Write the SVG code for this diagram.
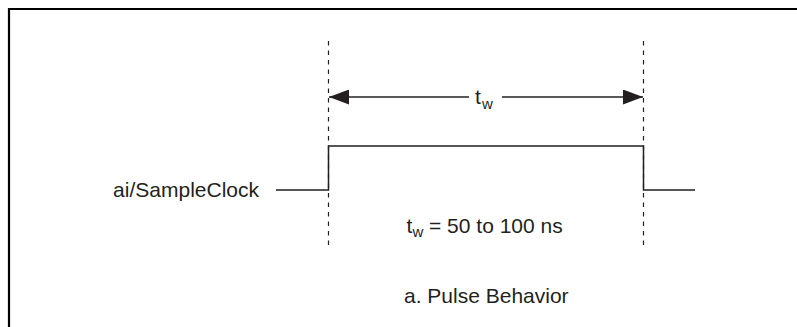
<svg xmlns="http://www.w3.org/2000/svg" width="797" height="327" viewBox="0 0 797 327">
<style>
.t{font-family:"Liberation Sans",Arial,sans-serif;font-size:21px;fill:#231f20}
.s{font-size:15px}
.dash{stroke:#231f20;stroke-width:1.2;stroke-dasharray:4.5,5;fill:none}
.sig{stroke:#231f20;stroke-width:1.5;fill:none}
.dim{stroke:#231f20;stroke-width:1.5;fill:none}
</style>
<defs>
<marker id="ah" markerWidth="20" markerHeight="15" refX="20" refY="7.5" orient="auto-start-reverse" markerUnits="userSpaceOnUse">
<path d="M0,0 L20,7.5 L0,15 Z" fill="#231f20"/>
</marker>
</defs>
<rect width="797" height="327" fill="#fff"/>
<g id="frame"><path d="M9,327 V9 H797" fill="none" stroke="#000" stroke-width="2.2"/></g>
<g id="connectors">
<line class="dash" x1="328.5" y1="41" x2="328.5" y2="250"/>
<line class="dash" x1="643.5" y1="41" x2="643.5" y2="250"/>
<line class="dim" x1="329" y1="97" x2="469" y2="97" marker-start="url(#ah)"/>
<line class="dim" x1="502" y1="97" x2="643" y2="97" marker-end="url(#ah)"/>
<polyline class="sig" points="276,190 328.5,190 328.5,146 643.5,146 643.5,190 695,190"/>
</g>
<g id="label-signal"><text class="t" x="259" y="196.5" text-anchor="end">ai/SampleClock</text></g>
<g id="label-tw"><text class="t" x="475" y="104">t<tspan class="s" x="482" y="108.5">w</tspan></text></g>
<g id="label-range"><text class="t" x="406.5" y="232.5">t<tspan class="s" x="412.5" y="237">w</tspan><tspan x="429" y="232.5">= 50 to 100 ns</tspan></text></g>
<g id="caption"><text class="t" x="404" y="303">a. Pulse Behavior</text></g>
</svg>
